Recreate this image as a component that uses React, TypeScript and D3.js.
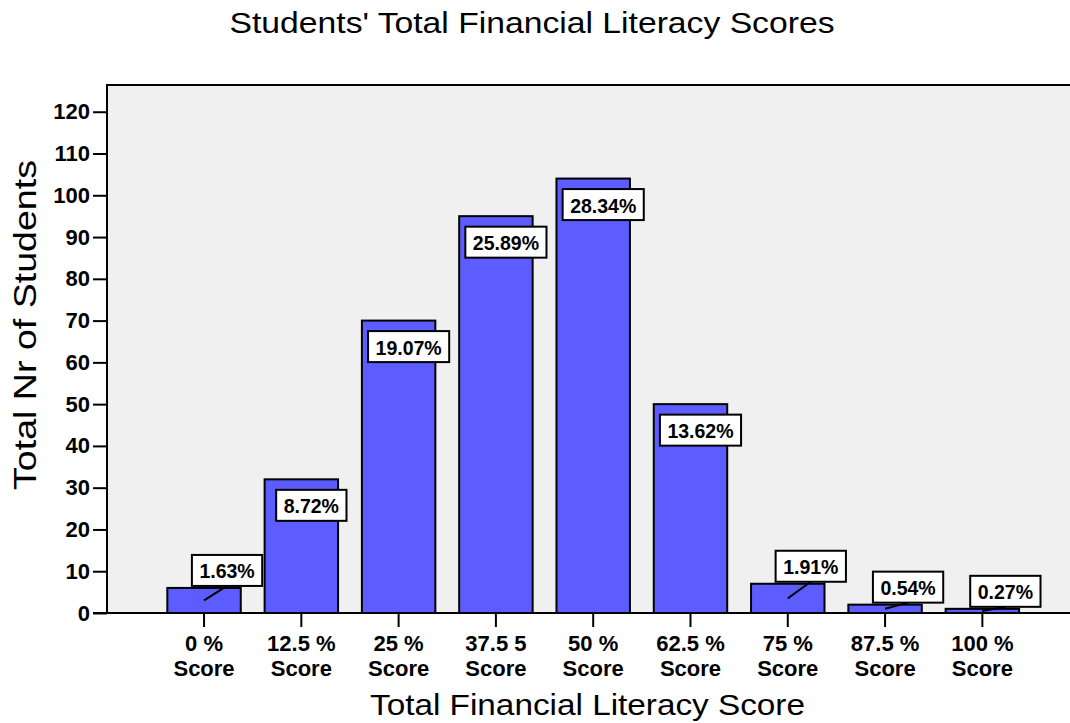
import React, { useEffect, useRef } from 'react';
import * as d3 from 'd3';

const categories = ['0 %|Score', '12.5 %|Score', '25 %|Score', '37.5 5|Score', '50 %|Score', '62.5 %|Score', '75 %|Score', '87.5 %|Score', '100 %|Score'];
const counts = [6, 32, 70, 95, 104, 50, 7, 2, 1];
const percentLabels = ['1.63%', '8.72%', '19.07%', '25.89%', '28.34%', '13.62%', '1.91%', '0.54%', '0.27%'];
const yTicks = [0, 10, 20, 30, 40, 50, 60, 70, 80, 90, 100, 110, 120];

const FONT = 'Liberation Sans, Arial, sans-serif';

const App: React.FC = () => {
  const svgRef = useRef<SVGSVGElement | null>(null);

  useEffect(() => {
    const svg = d3.select(svgRef.current);
    svg.selectAll('*').remove();

    const width = 1070;
    const height = 723;
    const plot = { left: 107, top: 85, right: 1070, bottom: 613 };

    svg.attr('viewBox', `0 0 ${width} ${height}`);

    const xScale = d3
      .scaleBand()
      .domain(categories)
      .range([155.4, 1031])
      .paddingInner(0.245)
      .paddingOuter(0.1225);

    const yScale = d3.scaleLinear().domain([0, 126.4]).range([plot.bottom, plot.top]);

    // plot background
    svg
      .append('rect')
      .attr('x', plot.left)
      .attr('y', plot.top)
      .attr('width', plot.right - plot.left)
      .attr('height', plot.bottom - plot.top)
      .attr('fill', '#f0f0f0');

    svg
      .append('path')
      .attr('d', `M${plot.right},${plot.top}H${plot.left}V${plot.bottom}`)
      .attr('fill', 'none')
      .attr('stroke', '#000')
      .attr('stroke-width', 2);

    // bars
    svg
      .selectAll('.bar')
      .data(counts)
      .join('rect')
      .attr('class', 'bar')
      .attr('x', (d, i) => xScale(categories[i]) || 0)
      .attr('y', (d) => yScale(d))
      .attr('width', xScale.bandwidth())
      .attr('height', (d) => plot.bottom - yScale(d))
      .attr('fill', '#5c5cff')
      .attr('stroke', '#000')
      .attr('stroke-width', 2);

    // y axis
    const yAxis = d3.axisLeft(yScale).tickValues(yTicks).tickSize(14).tickPadding(3);
    const gy = svg
      .append('g')
      .attr('transform', `translate(${plot.left}, 0)`)
      .call(yAxis);
    gy.select('.domain').remove();
    gy.selectAll('line').attr('stroke', '#000').attr('stroke-width', 2);
    gy.selectAll('text')
      .attr('font-family', FONT)
      .attr('font-weight', 'bold')
      .attr('font-size', 22)
      .attr('fill', '#000');

    // x axis
    svg
      .append('line')
      .attr('x1', 93)
      .attr('x2', plot.right)
      .attr('y1', plot.bottom)
      .attr('y2', plot.bottom)
      .attr('stroke', '#000')
      .attr('stroke-width', 2);

    const xAxis = d3.axisBottom(xScale).tickSize(14).tickFormat(() => '');
    const gx = svg
      .append('g')
      .attr('transform', `translate(0, ${plot.bottom})`)
      .call(xAxis);
    gx.select('.domain').remove();
    gx.selectAll('line').attr('stroke', '#000').attr('stroke-width', 2);

    // two-line category labels
    const xLabels = svg
      .append('g')
      .attr('font-family', FONT)
      .attr('font-weight', 'bold')
      .attr('font-size', 22)
      .attr('text-anchor', 'middle');
    categories.forEach((c) => {
      const cx = (xScale(c) || 0) + xScale.bandwidth() / 2;
      const [l1, l2] = c.split('|');
      xLabels.append('text').attr('x', cx).attr('y', 651).text(l1);
      xLabels.append('text').attr('x', cx).attr('y', 676).text(l2);
    });

    // value labels
    const labels = svg.append('g');
    counts.forEach((v, i) => {
      const cx = (xScale(categories[i]) || 0) + xScale.bandwidth() / 2;
      const small = v < 20;
      const g = labels.append('g');
      const txt = g
        .append('text')
        .attr('font-family', FONT)
        .attr('font-weight', 'bold')
        .attr('font-size', 19.5)
        .attr('text-anchor', 'middle')
        .attr('dominant-baseline', 'central')
        .text(percentLabels[i]);
      const tw = (txt.node() as SVGTextElement).getComputedTextLength();
      const bw = tw + 15;
      const bh = 31;
      const bx = cx + (small ? 23 : 10);
      const by = small ? yScale(v) - 2 - bh / 2 : yScale(v) + 26;
      txt.attr('x', bx).attr('y', by + 1);
      g.insert('rect', 'text')
        .attr('x', bx - bw / 2)
        .attr('y', by - bh / 2)
        .attr('width', bw)
        .attr('height', bh)
        .attr('fill', '#fff')
        .attr('stroke', '#000')
        .attr('stroke-width', 2);
      if (small) {
        g.insert('line', 'rect')
          .attr('x1', cx)
          .attr('y1', yScale(v / 2))
          .attr('x2', bx)
          .attr('y2', by + bh / 2)
          .attr('stroke', '#000')
          .attr('stroke-width', 2);
      }
    });

    // titles
    svg
      .append('text')
      .attr('x', 532)
      .attr('y', 33)
      .attr('text-anchor', 'middle')
      .attr('font-family', FONT)
      .attr('font-size', 30)
      .attr('textLength', 605)
      .attr('lengthAdjust', 'spacingAndGlyphs')
      .text("Students' Total Financial Literacy Scores");

    svg
      .append('text')
      .attr('x', 587.5)
      .attr('y', 715)
      .attr('text-anchor', 'middle')
      .attr('font-family', FONT)
      .attr('font-size', 30)
      .attr('textLength', 435)
      .attr('lengthAdjust', 'spacingAndGlyphs')
      .text('Total Financial Literacy Score');

    svg
      .append('text')
      .attr('transform', 'translate(36, 325) rotate(-90)')
      .attr('text-anchor', 'middle')
      .attr('font-family', FONT)
      .attr('font-size', 31)
      .attr('textLength', 330)
      .attr('lengthAdjust', 'spacingAndGlyphs')
      .text('Total Nr of Students');
  }, []);

  return (
    <svg
      ref={svgRef}
      width={1070}
      height={723}
      style={{ position: 'absolute', left: 0, top: 0, background: '#fff' }}
    />
  );
};

export default App;
